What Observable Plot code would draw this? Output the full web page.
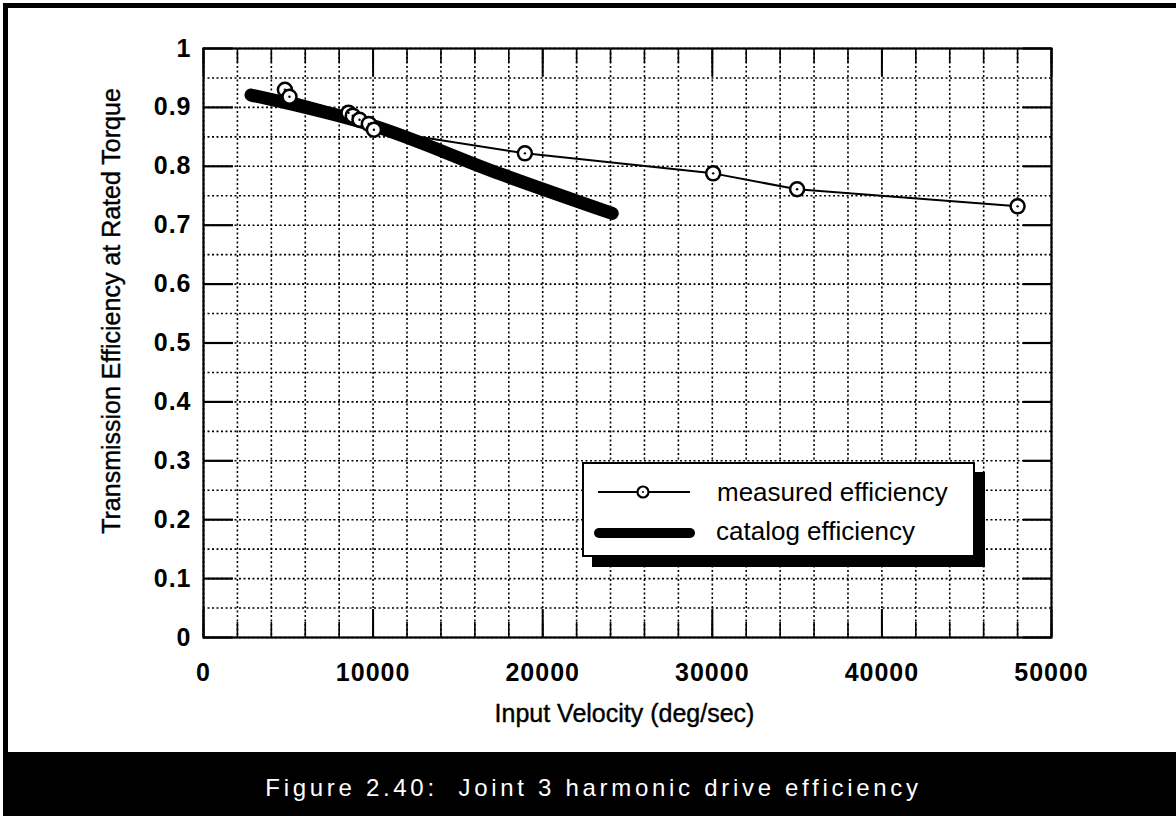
<!DOCTYPE html>
<html>
<head>
<meta charset="utf-8">
<script src="https://cdn.jsdelivr.net/npm/d3@7"></script>
<script src="https://cdn.jsdelivr.net/npm/@observablehq/plot@0.6"></script>
<style>
  body { margin: 0; background: #fff; }
  #wrap { position: relative; width: 1176px; height: 816px; overflow: hidden;
          font-family: "Liberation Sans", Arial, Helvetica, sans-serif; background: #fff; }
  #chart svg { display: block; }
  #topline { position: absolute; left: 3px; top: 3px; width: 1173px; height: 5px; background: #000; }
  #leftline { position: absolute; left: 3px; top: 3px; width: 5px; height: 760px; background: #000; }
  #caption { position: absolute; left: 3px; top: 752px; width: 1173px; height: 64px; box-sizing: border-box;
             padding-top: 8px; padding-left: 8px; background: #000; color: #fff; font-size: 24px;
             letter-spacing: 3.7px; white-space: pre; text-align: center; line-height: 56px; }
  #legend { position: absolute; left: 582px; top: 462px; width: 393px; height: 95px; box-sizing: border-box;
            border: 2.5px solid #000; background: #fff; box-shadow: 10px 10px 0 #000; }
  #legend svg { position: absolute; left: 0; top: 0; }
  #legend .lab { position: absolute; font-size: 26px; line-height: 26px; color: #000; white-space: nowrap; }
  g[aria-label="x-axis tick label"] text, g[aria-label="y-axis tick label"] text { letter-spacing: 1px; }
  g[aria-label="x-title"] text { letter-spacing: 0.9px; }
</style>
</head>
<body>
<div id="wrap">
  <div id="chart"></div>
  <div id="topline"></div>
  <div id="leftline"></div>
  <div id="legend"></div>
  <div id="caption"></div>
</div>
<script>
// ---- data ----
const measuredX = [4800, 5070, 8550, 8800, 9200, 9750, 10050, 18950, 30050, 35000, 48000];
const measuredY = [0.930, 0.918, 0.891, 0.886, 0.879, 0.872, 0.862, 0.822, 0.788, 0.761, 0.732];
const catalogX = [2800, 10000, 17500, 24100];
const catalogY = [0.921, 0.869, 0.787, 0.720];
const xTickLabels = [0, 10000, 20000, 30000, 40000, 50000];
const yTickLabels = [0, 0.1, 0.2, 0.3, 0.4, 0.5, 0.6, 0.7, 0.8, 0.9, 1];
const seriesNames = ["measured efficiency", "catalog efficiency"];
const xTitle = "Input Velocity (deg/sec)";
const yTitle = "Transmission Efficiency at Rated Torque";
const captionText = "Figure 2.40:  Joint 3 harmonic drive efficiency";

// ---- layout ----
const W = 1176, H = 752, mL = 203, mR = 125, mT = 48, mB = 115;
const innerW = W - mL - mR, innerH = H - mT - mB;
const xGrid = d3.range(0, 50001, 2000);
const yGrid = d3.range(0, 21).map(i => i / 20);

const measured = measuredX.map((x, i) => ({x, y: measuredY[i]}));
const catalog = catalogX.map((x, i) => ({x, y: catalogY[i]}));

const dotted = {stroke: "black", strokeOpacity: 1, strokeWidth: 1.6, strokeDasharray: "2,2.5"};

const chart = Plot.plot({
  width: W, height: H,
  marginLeft: mL, marginRight: mR, marginTop: mT, marginBottom: mB,
  style: {fontFamily: '"Liberation Sans", Arial, Helvetica, sans-serif', background: "transparent", color: "black"},
  x: {domain: [0, 50000]},
  y: {domain: [0, 1]},
  marks: [
    Plot.gridX(xGrid, dotted),
    Plot.gridY(yGrid, dotted),
    // minor ticks every 2000 (bottom and top, inward)
    Plot.ruleX(xGrid, {stroke: "black", strokeWidth: 1.6, insetTop: innerH - 15}),
    Plot.ruleX(xGrid, {stroke: "black", strokeWidth: 1.6, insetBottom: innerH - 15}),
    // major ticks
    Plot.ruleX(xTickLabels, {stroke: "black", strokeWidth: 2, insetTop: innerH - 28}),
    Plot.ruleX(xTickLabels, {stroke: "black", strokeWidth: 2, insetBottom: innerH - 28}),
    Plot.ruleY(yTickLabels, {stroke: "black", strokeWidth: 2.2, insetRight: innerW - 30}),
    Plot.ruleY(yTickLabels, {stroke: "black", strokeWidth: 2.2, insetLeft: innerW - 28}),
    Plot.frame({stroke: "black", strokeWidth: 2.2}),
    Plot.axisX(xTickLabels, {tickSize: 0, tickPadding: 26, tickFormat: d => String(d), fontSize: 25, fontWeight: "bold", label: null}),
    Plot.axisY(yTickLabels, {tickSize: 0, tickPadding: 12, tickFormat: d => String(d), fontSize: 25, fontWeight: "bold", label: null}),
    Plot.text([xTitle], {text: d => d, ariaLabel: "x-title", frameAnchor: "bottom", textAnchor: "middle", lineAnchor: "bottom", dx: -3, dy: 84, fontSize: 25, stroke: "black", strokeWidth: 0.4, fill: "black"}),
    Plot.text([yTitle], {text: d => d, ariaLabel: "y-title", frameAnchor: "left", textAnchor: "middle", rotate: -90, lineAnchor: "bottom", dx: -84, dy: -32, fontSize: 25, stroke: "black", strokeWidth: 0.4, fill: "black"}),
    Plot.line(catalog, {x: "x", y: "y", stroke: "black", strokeWidth: 13, strokeLinecap: "round", curve: "monotone-x"}),
    Plot.line(measured, {x: "x", y: "y", stroke: "black", strokeWidth: 2}),
    Plot.dot(measured, {x: "x", y: "y", r: 7, fill: "white", stroke: "black", strokeWidth: 2.5}),
    Plot.dot(measured, {x: "x", y: "y", r: 1.2, fill: "black"})
  ]
});
document.getElementById("chart").appendChild(chart);

// ---- legend (HTML overlay inside the plot area) ----
const legend = document.getElementById("legend");
legend.innerHTML = `
  <svg width="130" height="91">
    <line x1="14" x2="106" y1="28" y2="28" stroke="black" stroke-width="1.8"/>
    <circle cx="59" cy="28" r="5.5" fill="white" stroke="black" stroke-width="2.2"/>
    <circle cx="59" cy="28" r="1" fill="black"/>
    <line x1="15" x2="106" y1="69" y2="69" stroke="black" stroke-width="10" stroke-linecap="round"/>
  </svg>
  <span class="lab" style="left:133px;top:15px">${seriesNames[0]}</span>
  <span class="lab" style="left:132px;top:54px">${seriesNames[1]}</span>`;

document.getElementById("caption").textContent = captionText;
</script>
</body>
</html>
